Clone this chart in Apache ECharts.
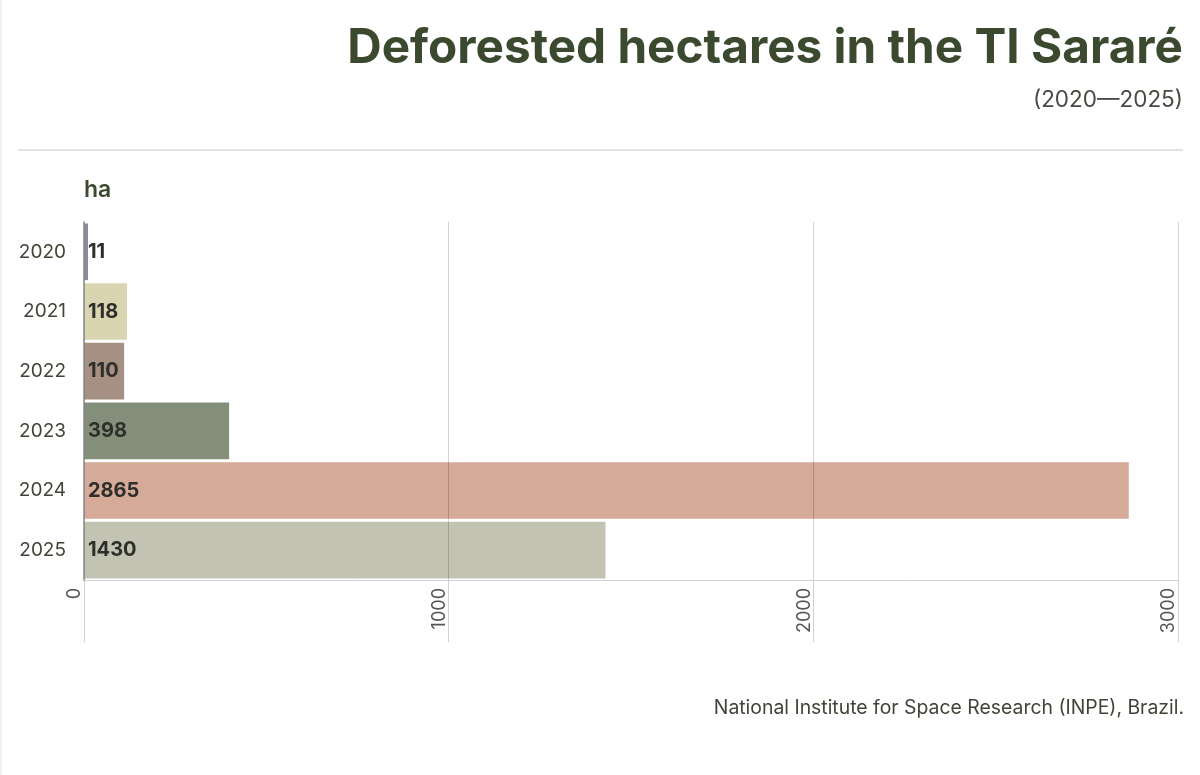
<!DOCTYPE html>
<html>
<head>
<meta charset="utf-8">
<title>Deforested hectares in the TI Sararé</title>
<script src="https://cdn.jsdelivr.net/npm/echarts@6/dist/echarts.min.js"></script>
<style>
  html, body { margin: 0; padding: 0; background: #fff; }
  #chart { width: 1200px; height: 775px; }
</style>
</head>
<body>
<div id="chart"></div>
<script>
// data
var years = ['2020', '2021', '2022', '2023', '2024', '2025'];
var hectares = [11, 118, 110, 398, 2865, 1430];
var barColors = ['#8d8a9b', '#d8d5b0', '#a68f83', '#848f7b', '#d6aa98', '#c2c3b2'];
var xTicks = [0, 1000, 2000, 3000];

var FONT = 'Inter, "Libre Franklin", "Open Sans", sans-serif';
var GREEN = '#3b4a2e';

var myChart = echarts.init(document.getElementById('chart'));

var option = {
  backgroundColor: '#fff',
  animation: false,
  title: [{
    text: 'Deforested hectares in the TI Sararé',
    right: 17,
    top: 25,
    padding: 0,
    textStyle: { fontFamily: FONT, fontSize: 47.7, fontWeight: 'bold', color: GREEN }
  }, {
    text: '(2020—2025)',
    right: 17,
    top: 89,
    padding: 0,
    textStyle: { fontFamily: FONT, fontSize: 22.5, fontWeight: 'normal', color: '#4a4a44' }
  }, {
    text: 'ha',
    left: 84,
    top: 179,
    padding: 0,
    textStyle: { fontFamily: FONT, fontSize: 23, fontWeight: 600, color: GREEN }
  }, {
    text: 'National Institute for Space Research (INPE), Brazil.',
    right: 16,
    top: 699,
    padding: 0,
    textStyle: { fontFamily: FONT, fontSize: 19.4, fontWeight: 'normal', color: '#3e4436' }
  }],
  graphic: [
    { type: 'line', shape: { x1: 18, y1: 150, x2: 1183, y2: 150 }, style: { stroke: '#c8c8c4', lineWidth: 1 } },
    { type: 'line', shape: { x1: 1, y1: 0, x2: 1, y2: 775 }, style: { stroke: '#e4e4e4', lineWidth: 1 } }
  ],
  grid: { left: 84, right: 22, top: 222, bottom: 195, containLabel: false },
  xAxis: {
    type: 'value',
    min: 0,
    max: 3000,
    interval: 1000,
    z: 5,
    axisLine: { show: true, lineStyle: { color: '#d0d0d0', width: 1 } },
    axisTick: { show: true, length: 62, lineStyle: { color: '#d0d0d0' } },
    splitLine: { show: true, lineStyle: { color: 'rgba(0,0,0,0.17)', width: 1 } },
    axisLabel: {
      rotate: 90,
      margin: 8,
      verticalAlign: 'bottom',
      fontFamily: FONT,
      fontSize: 18,
      color: '#555550',
      customValues: xTicks,
      formatter: function (v) { return String(v); }
    }
  },
  yAxis: {
    type: 'category',
    data: years,
    inverse: true,
    z: 6,
    axisLine: { show: true, lineStyle: { color: '#8a8a8a', width: 1.5 } },
    axisTick: { show: false },
    axisLabel: { margin: 18, fontFamily: FONT, fontSize: 19, color: '#3e4436' }
  },
  series: [{
    type: 'bar',
    data: hectares.map(function (v, i) {
      return { value: v, itemStyle: { color: barColors[i] } };
    }),
    barCategoryGap: '5%',
    label: {
      show: true,
      position: 'insideLeft',
      distance: 4,
      fontFamily: FONT,
      fontSize: 20,
      fontWeight: 'bold',
      color: '#2e2e2a'
    }
  }]
};

myChart.setOption(option);
</script>
</body>
</html>
